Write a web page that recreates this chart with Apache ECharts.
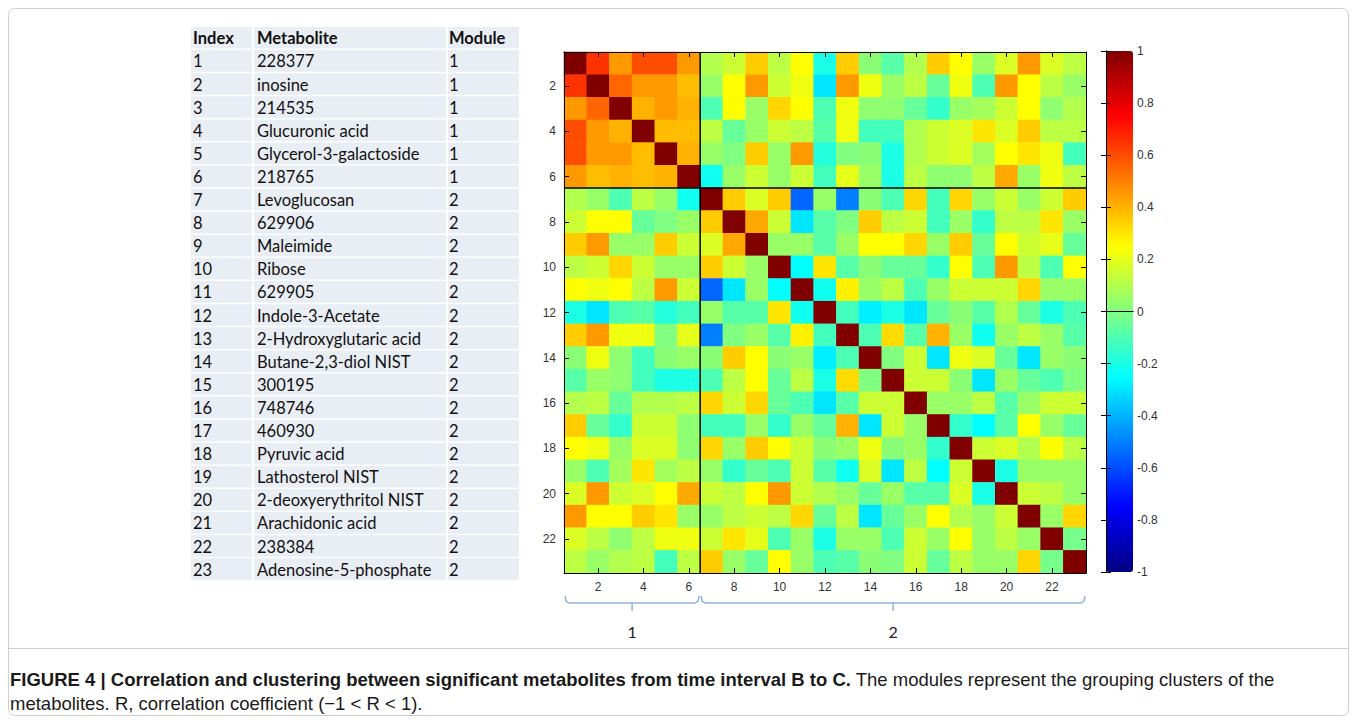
<!DOCTYPE html>
<html><head><meta charset="utf-8">
<script src="https://cdn.jsdelivr.net/npm/echarts@6/dist/echarts.min.js"></script>
<style>html,body{margin:0;padding:0;background:#fff}#main{width:1357px;height:724px}</style>
</head><body><div id="main"></div>
<script>
// ---------------- DATA ----------------
const indices = ['1','2','3','4','5','6','7','8','9','10','11','12','13','14','15','16','17','18','19','20','21','22','23'];
const metabolites = ['228377','inosine','214535','Glucuronic acid','Glycerol-3-galactoside','218765','Levoglucosan','629906','Maleimide','Ribose','629905','Indole-3-Acetate','2-Hydroxyglutaric acid','Butane-2,3-diol NIST','300195','748746','460930','Pyruvic acid','Lathosterol NIST','2-deoxyerythritol NIST','Arachidonic acid','238384','Adenosine-5-phosphate'];
const modules = [1,1,1,1,1,1,2,2,2,2,2,2,2,2,2,2,2,2,2,2,2,2,2];
const tableHeader = ['Index','Metabolite','Module'];
const tickLabels = ['2','4','6','8','10','12','14','16','18','20','22'];
const colorbarTicks = [-1,-0.8,-0.6,-0.4,-0.2,0,0.2,0.4,0.6,0.8,1];
// upper triangle of the correlation matrix: row i holds columns i+1..23
const upperTriangle = [
  [0.65,0.45,0.6,0.6,0.45,0.1,0.15,0.35,0.12,0.25,-0.2,0.35,0.02,-0.08,0.1,0.35,0.25,0.05,0.18,0.45,0.18,0.12],
  [0.55,0.45,0.45,0.38,0.05,0.25,0.45,0.15,0.22,-0.3,0.45,0.22,0.05,0.12,-0.05,0.22,-0.1,0.45,0.25,0.12,0.05],
  [0.4,0.45,0.4,-0.1,0.25,0.05,0.33,0.25,-0.1,0.22,0.03,0.03,-0.05,-0.15,0.05,0.07,0.15,0.25,0.03,0.1],
  [0.38,0.38,0.12,-0.05,0.05,0.15,0.12,-0.08,0.22,-0.12,-0.12,0.1,0.15,0.18,0.3,0.18,0.35,0.12,0.12],
  [0.4,0.05,0.0,0.35,0.05,0.45,-0.18,0.0,0.02,-0.2,0.1,0.15,0.18,0.07,0.25,0.3,0.22,-0.12],
  [-0.22,0.05,0.15,0.05,0.15,-0.12,0.2,0.05,-0.2,0.12,0.03,0.03,0.12,0.42,0.05,0.22,0.12],
  [0.35,0.18,0.35,-0.55,0.05,-0.5,0.02,-0.1,0.33,-0.12,0.33,0.05,0.15,0.05,0.15,0.35],
  [0.42,0.15,-0.3,-0.08,0.0,0.35,0.12,0.15,-0.12,0.05,-0.15,0.12,0.12,0.3,0.05],
  [0.05,0.05,-0.08,0.05,0.25,0.25,0.33,0.05,0.35,-0.05,0.25,0.15,0.2,-0.05],
  [-0.25,0.3,-0.08,0.02,-0.05,-0.05,-0.15,0.25,-0.1,0.45,0.12,-0.1,0.25],
  [-0.22,0.28,0.05,0.12,-0.1,0.05,0.15,0.15,0.15,0.33,0.05,0.05],
  [-0.12,-0.28,-0.2,-0.3,-0.05,0.02,-0.08,0.1,-0.05,-0.2,-0.1],
  [-0.1,0.32,-0.08,0.4,0.05,-0.22,0.05,0.12,0.05,-0.08],
  [0.0,0.15,-0.3,0.22,0.18,-0.05,-0.3,0.05,0.02],
  [0.15,0.15,0.02,-0.3,0.05,-0.05,-0.1,0.0],
  [0.05,0.05,0.12,-0.08,0.05,0.15,0.15],
  [-0.15,-0.25,-0.08,0.25,0.05,-0.05],
  [0.15,0.18,0.1,0.25,0.12],
  [-0.2,0.05,0.05,0.05],
  [0.15,0.12,0.05],
  [0.05,0.33],
  [-0.02]
];
const captionBold = 'FIGURE 4 | Correlation and clustering between significant metabolites from time interval B to C.';
const captionRest = ' The modules represent the grouping clusters of the';
const captionLine2 = 'metabolites. R, correlation coefficient (\u22121 < R < 1).';

// ---------------- BUILD ----------------
const n = indices.length;
const heatData = [];
for (let i = 0; i < n; i++) {
  for (let j = 0; j < n; j++) {
    let v;
    if (i === j) v = 1;
    else if (j > i) v = upperTriangle[i][j - i - 1];
    else v = upperTriangle[j][i - j - 1];
    heatData.push([j, i, v]);
  }
}
const moduleRanges = [];
let st = 0;
for (let i = 1; i <= n; i++) {
  if (i === n || modules[i] !== modules[st]) { moduleRanges.push([st, i - 1, String(modules[st])]); st = i; }
}
const boundaries = moduleRanges.slice(0, -1).map(r => [r[1]]);

const jet = ['#000080','#0000ff','#0080ff','#00ffff','#80ff80','#ffff00','#ff8000','#ff0000','#800000'];
const isTick = (i, v) => tickLabels.indexOf(String(v)) >= 0;

const G = {left: 564, top: 52, width: 522, height: 521};
const CB = {left: 1106, top: 51, width: 27, height: 521};

// ---------------- GRAPHICS (table, frame, caption) ----------------
const graphics = [];
graphics.push({type:'rect', silent:true, z:-10, shape:{x:8.5,y:8.5,width:1340,height:707,r:6}, style:{fill:'none',stroke:'#cfcfcf',lineWidth:1}});
graphics.push({type:'line', silent:true, shape:{x1:8.5,y1:648.5,x2:1348.5,y2:648.5}, style:{stroke:'#cfcfcf',lineWidth:1}});
const colX = [191, 254, 448], colW = [61, 192, 71], textX = [193, 257, 449];
const rowTop = 27, rowPitch = 23.1, rowH = 21.6;
const tableFont = '16.5px Lato';
for (let r = 0; r <= n; r++) {
  const y = rowTop + r * rowPitch;
  for (let c = 0; c < 3; c++) {
    graphics.push({type:'rect', silent:true, shape:{x:colX[c], y:y, width:colW[c], height:rowH}, style:{fill:'#e9edf4'}});
    const txt = r === 0 ? tableHeader[c] : (c === 0 ? indices[r-1] : c === 1 ? metabolites[r-1] : String(modules[r-1]));
    graphics.push({type:'text', silent:true, x:textX[c], y:y + rowH/2 + 0.5, style:{text:txt, fill:'#111', font:(r===0?'bold ':'')+tableFont, align:'left', verticalAlign:'middle'}});
  }
}
graphics.push({type:'text', silent:true, x:10, y:679, style:{
  text:'{b|' + captionBold + '}{n|' + captionRest + '}', verticalAlign:'middle', align:'left',
  rich:{b:{fontWeight:'bold', fontSize:18.5, fontFamily:'Liberation Sans', fill:'#1a1a1a'}, n:{fontSize:18.5, fontFamily:'Liberation Sans', fill:'#1a1a1a'}}
}});
graphics.push({type:'text', silent:true, x:10, y:703, style:{text:captionLine2, font:'18.5px "Liberation Sans"', fill:'#1a1a1a', align:'left', verticalAlign:'middle'}});

const axisBlack = {show:true, lineStyle:{color:'#000', width:1}};
const catTick = {show:true, inside:true, length:5, alignWithLabel:true, interval:isTick, lineStyle:{color:'#000'}};

const chart = echarts.init(document.getElementById('main'), null, {renderer:'svg', width:1357, height:724});
chart.setOption({
  animation:false,
  backgroundColor:'#ffffff',
  grid:[
    {left:G.left, top:G.top, width:G.width, height:G.height},
    {left:CB.left, top:CB.top, width:CB.width, height:CB.height}
  ],
  xAxis:[
    {type:'category', gridIndex:0, data:indices, position:'bottom', z:5, axisLine:axisBlack, axisTick:catTick,
     axisLabel:{interval:isTick, color:'#333', fontSize:12, fontFamily:'Liberation Sans', margin:8}, splitLine:{show:false}},
    {type:'category', gridIndex:0, data:indices, position:'top', z:5, axisLine:axisBlack, axisTick:catTick,
     axisLabel:{show:false}, splitLine:{show:false}},
    {type:'value', gridIndex:1, min:0, max:1, position:'bottom', z:5, axisLine:axisBlack, axisTick:{show:false}, axisLabel:{show:false}, splitLine:{show:false}},
    {type:'value', gridIndex:1, min:0, max:1, position:'top', z:5, axisLine:axisBlack, axisTick:{show:false}, axisLabel:{show:false}, splitLine:{show:false}}
  ],
  yAxis:[
    {type:'category', gridIndex:0, data:indices, inverse:true, position:'left', z:5, axisLine:axisBlack, axisTick:catTick,
     axisLabel:{interval:isTick, color:'#333', fontSize:12, fontFamily:'Liberation Sans', margin:8}, splitLine:{show:false}},
    {type:'category', gridIndex:0, data:indices, inverse:true, position:'right', z:5, axisLine:axisBlack, axisTick:catTick,
     axisLabel:{show:false}, splitLine:{show:false}},
    {type:'value', gridIndex:1, min:colorbarTicks[0], max:colorbarTicks[colorbarTicks.length-1], interval:0.2, position:'right', z:5,
     axisLine:axisBlack, axisTick:{show:true, inside:true, length:5, lineStyle:{color:'#000'}},
     axisLabel:{color:'#333', fontSize:12, fontFamily:'Liberation Sans', margin:4, formatter:v => String(Math.round(v*10)/10)}, splitLine:{show:false}},
    {type:'value', gridIndex:1, min:colorbarTicks[0], max:colorbarTicks[colorbarTicks.length-1], interval:0.2, position:'left', z:5,
     axisLine:axisBlack, axisTick:{show:true, inside:true, length:5, lineStyle:{color:'#000'}}, axisLabel:{show:false}, splitLine:{show:false}}
  ],
  visualMap:{
    type:'continuous', min:-1, max:1, seriesIndex:0, orient:'vertical',
    left:CB.left, top:CB.top, itemWidth:CB.width, itemHeight:CB.height, padding:0,
    calculable:false, hoverLink:false, inRange:{color:jet}
  },
  series:[
    {type:'heatmap', xAxisIndex:0, yAxisIndex:0, data:heatData, z:2, emphasis:{disabled:true}},
    {type:'custom', xAxisIndex:0, yAxisIndex:0, data:moduleRanges, clip:false, silent:true, z:6,
     renderItem:function(params, api){
       const s = api.value(0), e = api.value(1);
       const cs = api.coord([s, n-1]), ce = api.coord([e, n-1]);
       const sz = api.size([1,1]);
       const x0 = cs[0] - sz[0]/2 + 1, x1 = ce[0] + sz[0]/2 - 1;
       const yb = cs[1] + sz[1]/2;
       const y = yb + 30, xm = (x0 + x1)/2;
       const stroke = {stroke:'#8fb4dc', lineWidth:1.5, fill:'none'};
       return {type:'group', children:[
         {type:'polyline', shape:{points:[[x0,y-7],[x0+1,y-2],[x0+4,y],[x1-4,y],[x1-1,y-2],[x1,y-7]]}, style:stroke},
         {type:'line', shape:{x1:xm,y1:y,x2:xm,y2:y+8}, style:stroke},
         {type:'text', x:xm, y:yb+58, style:{text:moduleRanges[params.dataIndex][2], font:'16px Lato', fill:'#222', align:'center', verticalAlign:'middle'}}
       ]};
     }},
    {type:'custom', xAxisIndex:0, yAxisIndex:0, data:boundaries, clip:false, silent:true, z:6,
     renderItem:function(params, api){
       const b = api.value(0);
       const sz = api.size([1,1]);
       const p = api.coord([b, b]);
       const first = api.coord([0, 0]), last = api.coord([n-1, n-1]);
       const xb = p[0] + sz[0]/2, yb = p[1] + sz[1]/2;
       const st = {stroke:'#000', lineWidth:1.5};
       return {type:'group', children:[
         {type:'line', shape:{x1:xb, y1:first[1]-sz[1]/2, x2:xb, y2:last[1]+sz[1]/2}, style:st},
         {type:'line', shape:{x1:first[0]-sz[0]/2, y1:yb, x2:last[0]+sz[0]/2, y2:yb}, style:st}
       ]};
     }}
  ],
  graphic:graphics
});
</script>
</body></html>
